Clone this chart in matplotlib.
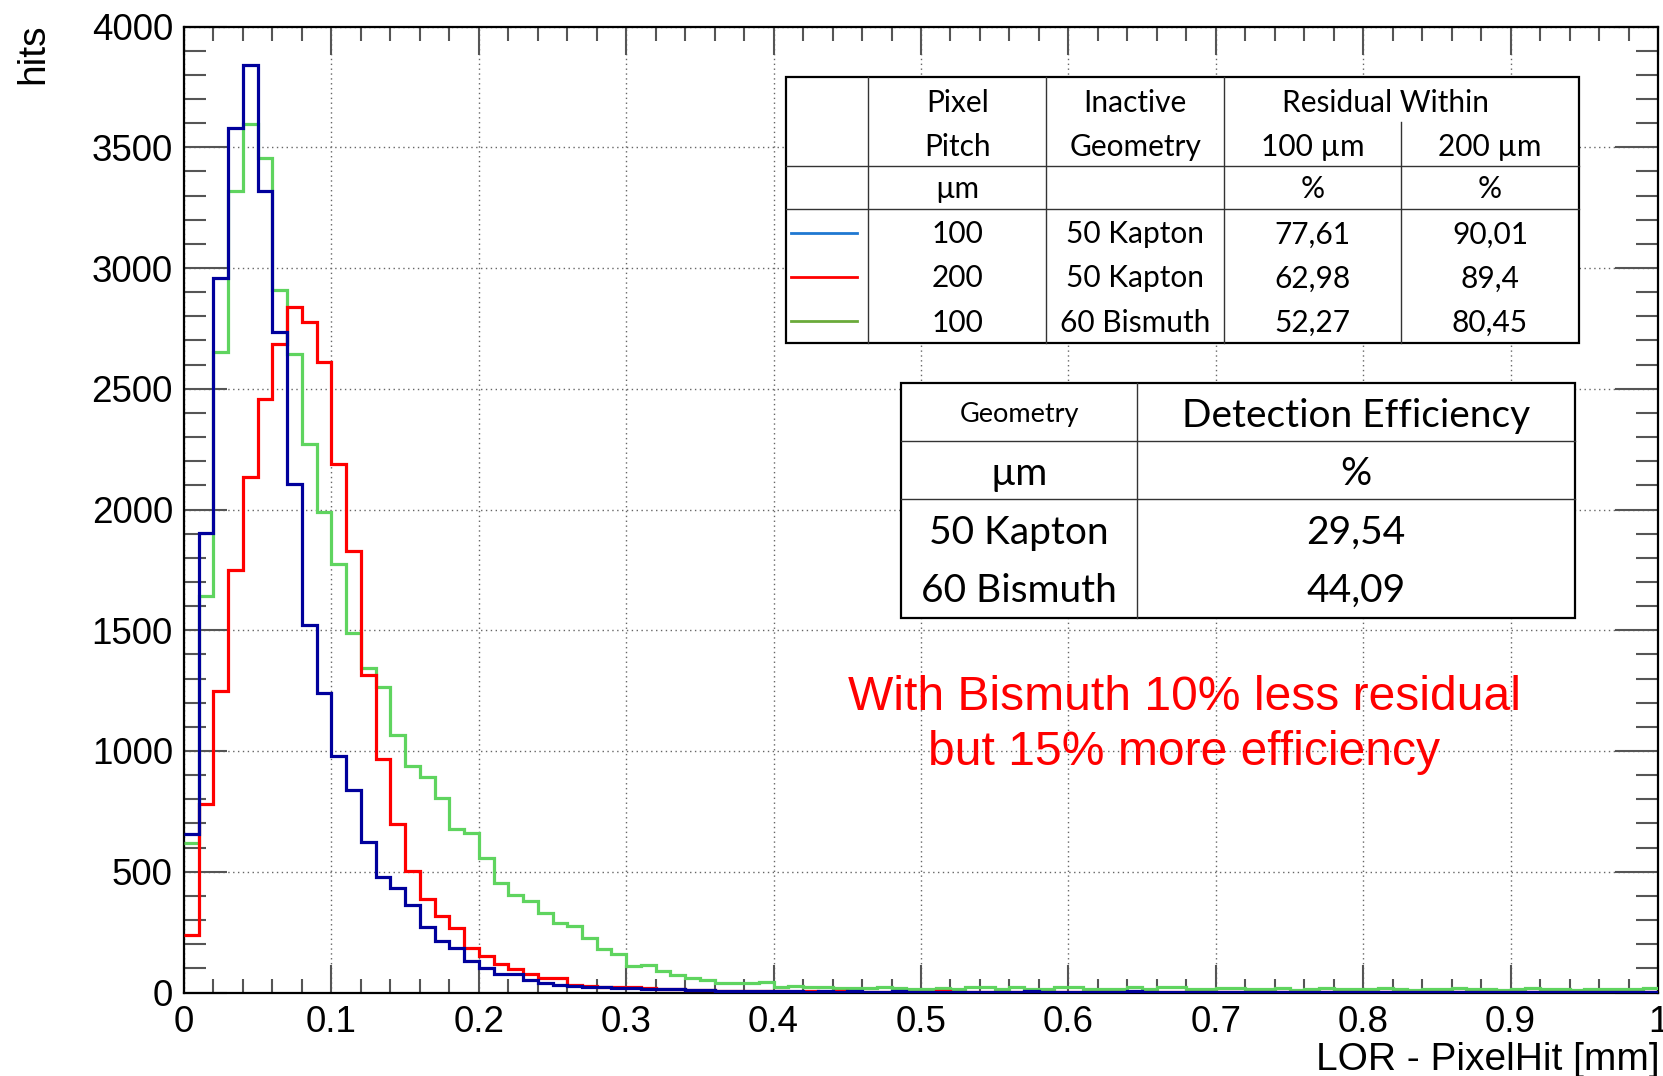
import numpy as np
import matplotlib
matplotlib.use("Agg")
import matplotlib.pyplot as plt
from matplotlib.lines import Line2D
from matplotlib.patches import Rectangle

# ---------------------------------------------------------------- data
# 100 bins of 0.01 mm between 0 and 1 mm
bin_edges = np.linspace(0.0, 1.0, 101)

# pitch 100 um, 50 um Kapton (blue)
hits_p100_kapton = [
    655, 1901, 2957, 3578, 3840, 3320, 2734, 2106, 1522, 1242,
    981, 839, 625, 478, 431, 362, 273, 213, 186, 130,
    103, 75, 75, 52, 41, 31, 28, 21, 21, 20,
    20, 16, 15, 13, 12, 10, 8, 7, 6, 6,
    5, 6, 4, 5, 3, 6, 4, 3, 5, 3,
    4, 3, 2, 3, 4, 2, 3, 5, 2, 3,
    4, 2, 3, 2, 5, 3, 2, 4, 3, 2,
    3, 2, 4, 3, 2, 3, 2, 4, 2, 3,
    3, 2, 4, 2, 3, 2, 3, 4, 2, 3,
    2, 3, 2, 4, 3, 2, 3, 2, 4, 3,
]

# pitch 200 um, 50 um Kapton (red)
hits_p200_kapton = [
    238, 780, 1250, 1750, 2133, 2456, 2685, 2837, 2778, 2612,
    2188, 1828, 1315, 966, 697, 505, 388, 318, 269, 186,
    151, 118, 97, 75, 61, 61, 31, 28, 24, 21,
    22, 18, 15, 13, 11, 9, 8, 7, 6, 6,
    5, 4, 6, 3, 5, 2, 4, 3, 2, 4,
    3, 5, 2, 1, 3, 2, 4, 3, 1, 2,
    3, 2, 4, 1, 2, 3, 2, 1, 3, 2,
    4, 2, 1, 3, 2, 2, 3, 1, 2, 3,
    2, 1, 3, 2, 2, 1, 3, 2, 1, 2,
    3, 2, 1, 2, 3, 1, 2, 2, 1, 3,
]

# pitch 100 um, 60 um Bismuth (green)
hits_p100_bismuth = [
    618, 1643, 2654, 3320, 3596, 3457, 2909, 2644, 2270, 1990,
    1773, 1487, 1342, 1264, 1065, 939, 894, 804, 676, 659,
    558, 455, 404, 379, 328, 286, 275, 227, 180, 158,
    110, 112, 90, 71, 61, 52, 41, 41, 38, 45,
    24, 28, 21, 21, 19, 19, 17, 24, 19, 13,
    16, 19, 14, 21, 21, 14, 24, 14, 14, 24,
    24, 16, 16, 16, 24, 16, 21, 21, 13, 13,
    20, 20, 16, 14, 18, 12, 15, 19, 14, 16,
    13, 17, 15, 11, 16, 14, 18, 13, 15, 12,
    14, 17, 13, 15, 12, 16, 14, 13, 15, 18,
]

x_tick_values = [0.0, 0.1, 0.2, 0.3, 0.4, 0.5, 0.6, 0.7, 0.8, 0.9, 1.0]
x_tick_labels = ["0", "0.1", "0.2", "0.3", "0.4", "0.5", "0.6", "0.7", "0.8", "0.9", "1"]
y_tick_values = [0, 500, 1000, 1500, 2000, 2500, 3000, 3500, 4000]
y_tick_labels = ["0", "500", "1000", "1500", "2000", "2500", "3000", "3500", "4000"]

# residual table
residual_header = ["Pixel", "Inactive", "Residual Within"]
residual_subheader = ["Pitch", "Geometry", "100 µm", "200 µm"]
residual_units = ["µm", "", "%", "%"]
residual_pitch = ["100", "200", "100"]
residual_geometry = ["50 Kapton", "50 Kapton", "60 Bismuth"]
residual_within_100 = ["77,61", "62,98", "52,27"]
residual_within_200 = ["90,01", "89,4", "80,45"]
residual_line_colors = ["#1f78d1", "#ff0000", "#6aaa3a"]

# efficiency table
efficiency_geometry = ["50 Kapton", "60 Bismuth"]
efficiency_values = ["29,54", "44,09"]

note_lines = ["With Bismuth 10% less residual", "but 15% more efficiency"]

# ---------------------------------------------------------------- figure
W, H = 1663, 1076
fig = plt.figure(figsize=(W / 100, H / 100), dpi=100)
fig.patch.set_facecolor("white")

AX_L, AX_R, AX_T, AX_B = 184, 1658, 26.5, 992.5
ax = fig.add_axes([AX_L / W, 1 - AX_B / H, (AX_R - AX_L) / W, (AX_B - AX_T) / H])

ax.stairs(hits_p100_bismuth, bin_edges, baseline=None, color="#5fd45f", linewidth=2.3, zorder=3)
ax.stairs(hits_p200_kapton, bin_edges, baseline=None, color="#ff0000", linewidth=2.3, zorder=4)
ax.stairs(hits_p100_kapton, bin_edges, baseline=None, color="#00009c", linewidth=2.3, zorder=5)

ax.set_xlim(0, 1)
ax.set_ylim(0, 4000)
ax.set_xticks(x_tick_values)
ax.set_xticklabels(x_tick_labels)
ax.set_xticks(np.arange(0, 1.0001, 0.02), minor=True)
ax.set_yticks(y_tick_values)
ax.set_yticklabels(y_tick_labels)
ax.set_yticks(np.arange(0, 4001, 100), minor=True)

for lab in ax.get_xticklabels() + ax.get_yticklabels():
    lab.set_fontfamily("Liberation Sans")
    lab.set_fontsize(26.5)

ax.tick_params(axis="both", which="both", direction="in", top=True, right=True,
               color="#555555", width=1.5)
ax.tick_params(axis="x", which="major", length=20, pad=9)
ax.tick_params(axis="x", which="minor", length=10)
ax.tick_params(axis="y", which="major", length=31, pad=8)
ax.tick_params(axis="y", which="minor", length=15.5)

ax.set_axisbelow(True)
ax.grid(which="major", color="0.4", linestyle=(0, (1, 2.5)), linewidth=1.0)
for sp in ax.spines.values():
    sp.set_linewidth(1.6)
    sp.set_color("black")

# axis titles
fig.text(33 / W, 1 - 24 / H, "hits", rotation=90, ha="center", va="top",
         family="Liberation Sans", fontsize=28)
fig.text(1660 / W, 1 - 1070 / H, "LOR - PixelHit [mm]", ha="right", va="baseline",
         family="Liberation Sans", fontsize=28)


# ---------------------------------------------------------------- helpers (pixel coordinates)
def fx(x):
    return x / W


def fy(y):
    return 1 - y / H


def hline(x0, x1, y, lw=1.0, color="#333333"):
    fig.add_artist(Line2D([fx(x0), fx(x1)], [fy(y), fy(y)], color=color, linewidth=lw, zorder=6))


def vline(x, y0, y1, lw=1.0, color="#333333"):
    fig.add_artist(Line2D([fx(x), fx(x)], [fy(y0), fy(y1)], color=color, linewidth=lw, zorder=6))


def box(x0, y0, x1, y1, lw=1.6):
    fig.add_artist(Rectangle((fx(x0), fy(y1)), fx(x1) - fx(x0), fy(y0) - fy(y1),
                             facecolor="white", edgecolor="black", linewidth=lw, zorder=5))


def label(x, y, s, size, family="Lato", color="black"):
    fig.text(fx(x), fy(y), s, ha="center", va="baseline", fontsize=size,
             family=family, color=color, zorder=7)


# ---------------------------------------------------------------- residual table
t1_x = [786, 868.3, 1046.3, 1223.9, 1401.4, 1578.5]
t1_y0, t1_y1 = 77, 343.3
box(t1_x[0], t1_y0, t1_x[-1], t1_y1)
hline(t1_x[0], t1_x[-1], 165.7)
hline(t1_x[0], t1_x[-1], 209.3)
for xv in t1_x[1:4]:
    vline(xv, t1_y0, t1_y1)
vline(t1_x[4], 121.7, t1_y1)

c = [(t1_x[i] + t1_x[i + 1]) / 2 for i in range(5)]
fs1 = 21.5
label(c[1], 111.7, residual_header[0], fs1)
label(c[2], 111.7, residual_header[1], fs1)
label(1386, 111.7, residual_header[2], fs1)
for i, s in enumerate(residual_subheader):
    label(c[i + 1], 155.7, s, fs1)
for i, s in enumerate(residual_units):
    if s:
        label(c[i + 1], 198.3, s, fs1)
row_base = [243.3, 287.3, 331.7]
row_mid = [233.3, 277.3, 321.3]
for r in range(3):
    fig.add_artist(Line2D([fx(791), fx(856.5)], [fy(row_mid[r])] * 2,
                          color=residual_line_colors[r], linewidth=2.0, zorder=7))
    label(c[1], row_base[r], residual_pitch[r], fs1)
    label(c[2], row_base[r], residual_geometry[r], fs1)
    label(c[3], row_base[r], residual_within_100[r], fs1)
    label(c[4], row_base[r], residual_within_200[r], fs1)

# ---------------------------------------------------------------- efficiency table
t2_x = [901.2, 1136.9, 1575.3]
t2_y0, t2_y1 = 382.7, 618.3
box(t2_x[0], t2_y0, t2_x[-1], t2_y1)
vline(t2_x[1], t2_y0, t2_y1)
hline(t2_x[0], t2_x[-1], 440.7)
hline(t2_x[0], t2_x[-1], 499)
d1 = (t2_x[0] + t2_x[1]) / 2
d2 = (t2_x[1] + t2_x[2]) / 2
fs2 = 28
label(d1, 421.7, "Geometry", 19.5)
label(d2, 426.7, "Detection Efficiency", fs2)
label(d1, 485, "µm", fs2)
label(d2, 485, "%", fs2)
for r, yb in enumerate([544, 601.7]):
    label(d1, yb, efficiency_geometry[r], fs2)
    label(d2, yb, efficiency_values[r], fs2)

# ---------------------------------------------------------------- note
for s, yb in zip(note_lines, [710, 765]):
    label(1184, yb, s, 34.6, family="Liberation Sans", color="#ff0000")

fig.savefig("out.png", dpi=100, facecolor="white")
